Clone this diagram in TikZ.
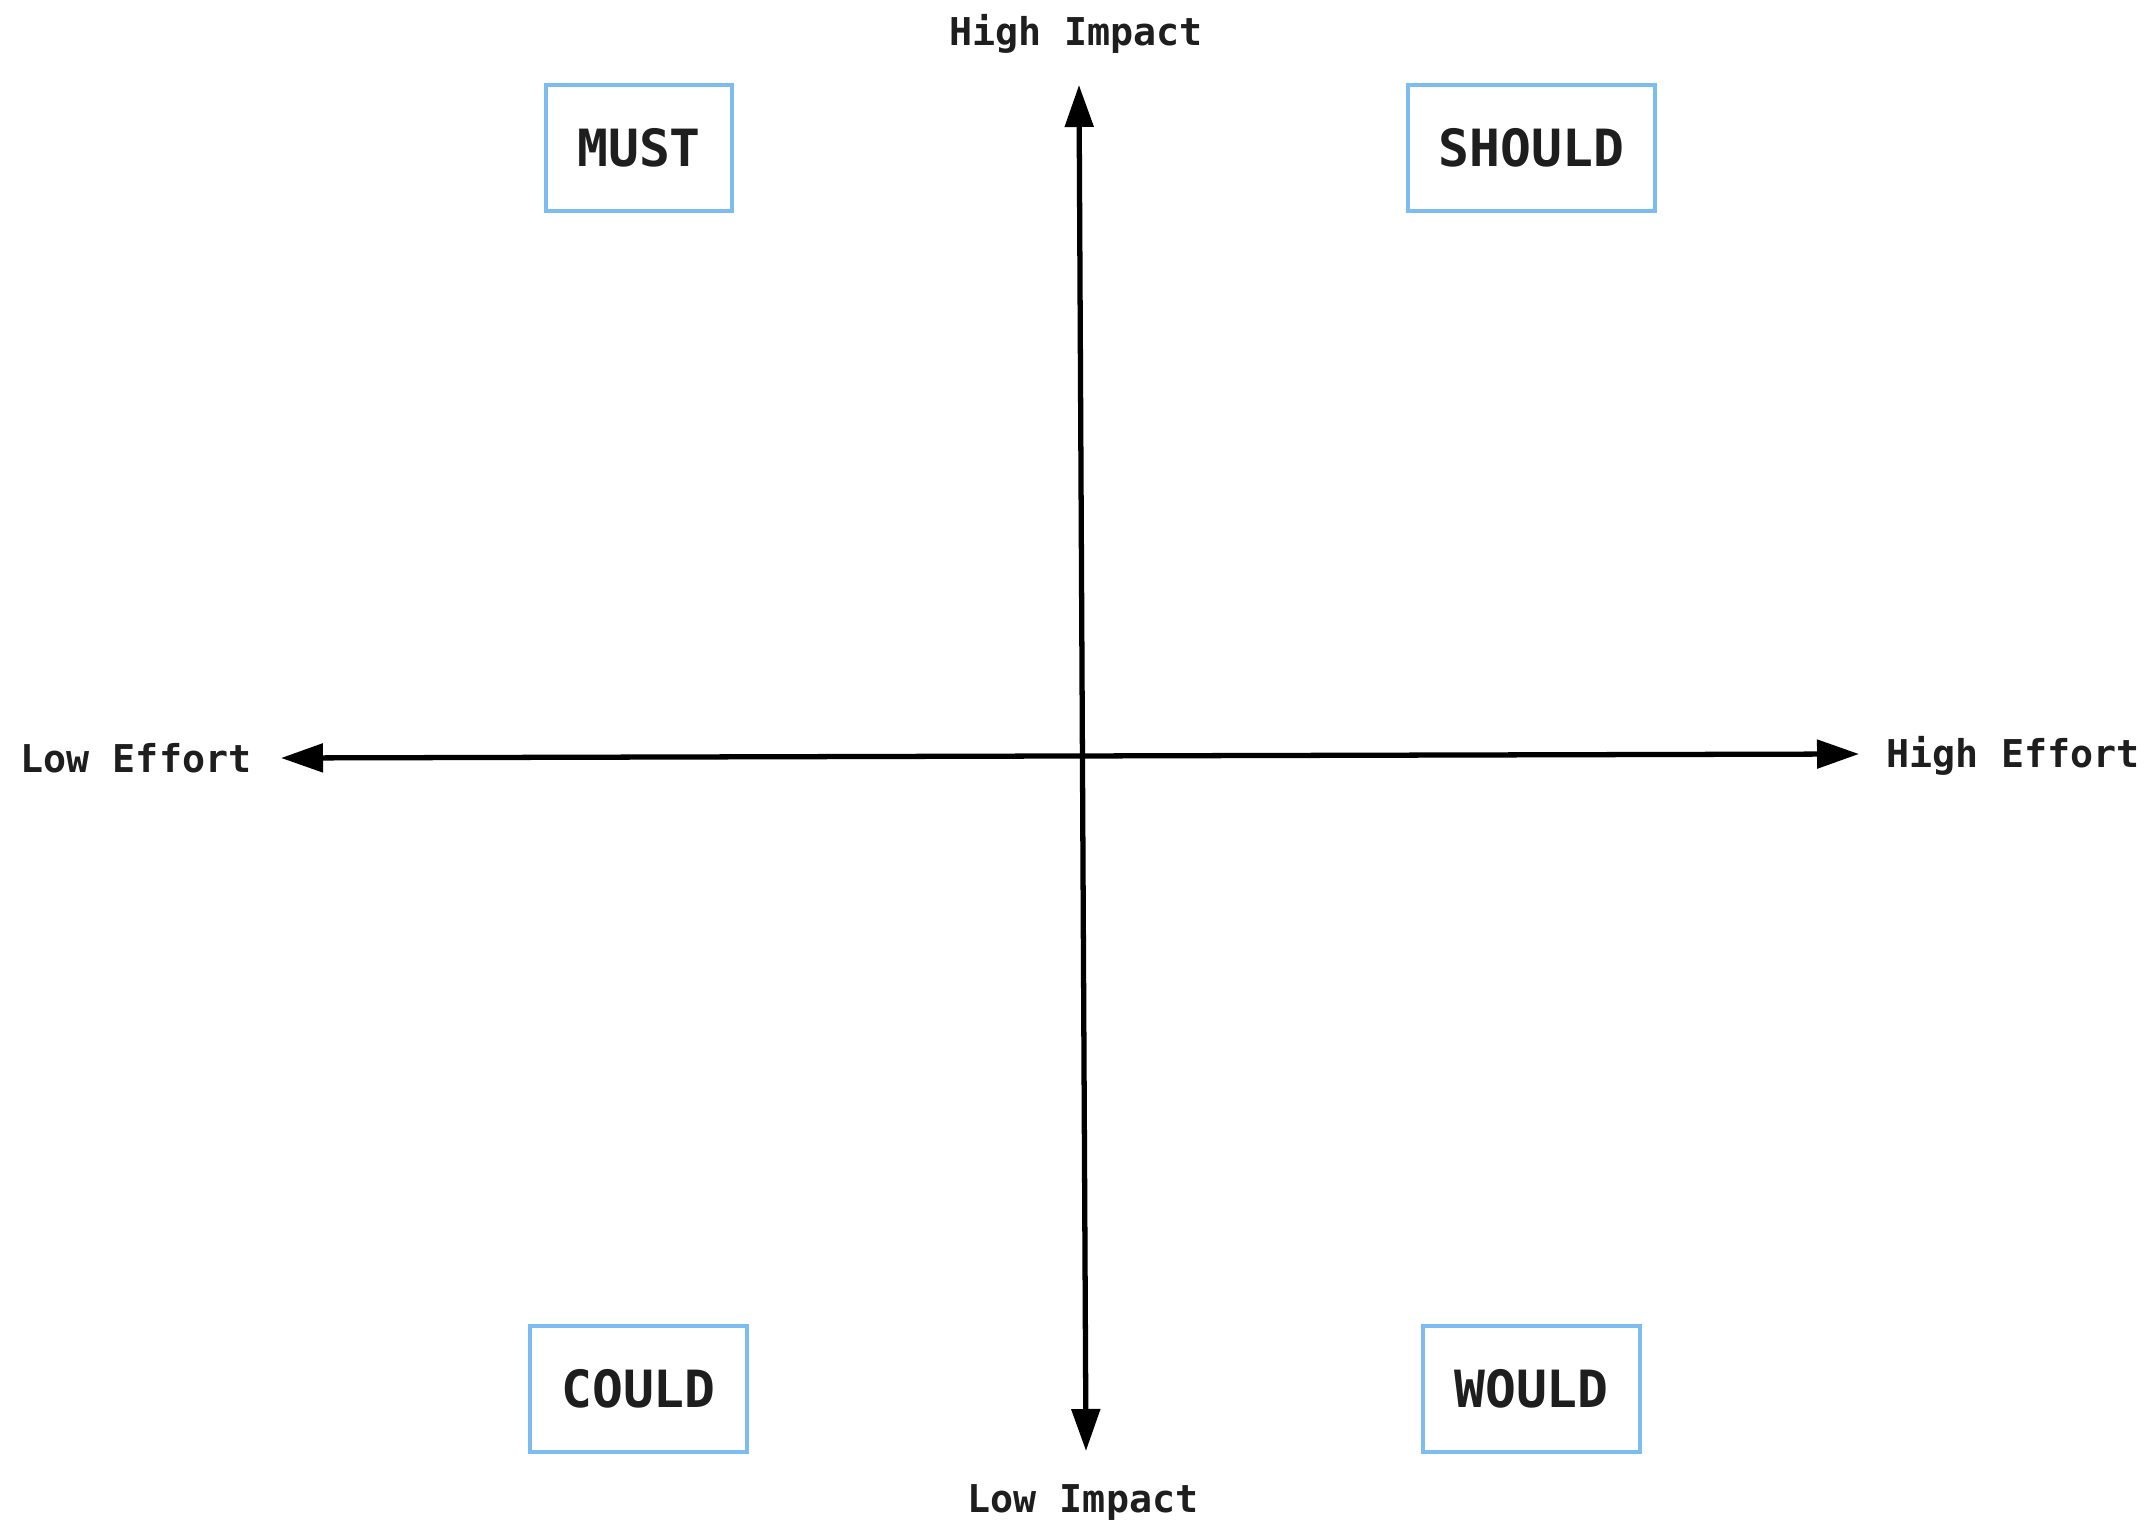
\documentclass[tikz,border=0pt]{standalone}
\usepackage{fontspec}
\setmonofont{DejaVu Sans Mono}
\usetikzlibrary{arrows.meta}

\definecolor{inkdark}{RGB}{30,30,30}
\definecolor{boxblue}{RGB}{125,188,240}

\begin{document}
\begin{tikzpicture}[x=1cm, y=-1cm,
    axislabel/.style={font=\ttfamily\bfseries\fontsize{10.9}{13}\selectfont, text=inkdark},
    quadbox/.style={draw=boxblue, line width=1.1pt, inner xsep=0.31cm, minimum height=1.26cm,
      font=\ttfamily\bfseries\fontsize{14.6}{17}\selectfont, text=inkdark},
    axisline/.style={line width=1.5pt, {Triangle[length=4.2mm,width=2.8mm]}-{Triangle[length=4.2mm,width=2.8mm]}}]
    \useasboundingbox (0,0) rectangle (21.5,15.25);

    % axis end points
    \coordinate (top) at (10.79,0.85);
    \coordinate (bottom) at (10.86,14.51);
    \coordinate (left) at (2.81,7.58);
    \coordinate (right) at (18.59,7.54);

    % axes
    \draw[axisline] (top) -- (bottom);
    \draw[axisline] (left) -- (right);

    % axis labels
    \node[axislabel] (highimpact) at (10.76,0.34) {High Impact};
    \node[axislabel] (lowimpact) at (10.83,15.03) {Low Impact};
    \node[axislabel] (loweffort) at (1.36,7.58) {Low Effort};
    \node[axislabel] (higheffort) at (20.13,7.56) {High Effort};

    % quadrants
    \node[quadbox] (must) at (6.39,1.48) {MUST};
    \node[quadbox] (should) at (15.315,1.48) {SHOULD};
    \node[quadbox] (could) at (6.385,13.89) {COULD};
    \node[quadbox] (would) at (15.315,13.89) {WOULD};
\end{tikzpicture}
\end{document}
